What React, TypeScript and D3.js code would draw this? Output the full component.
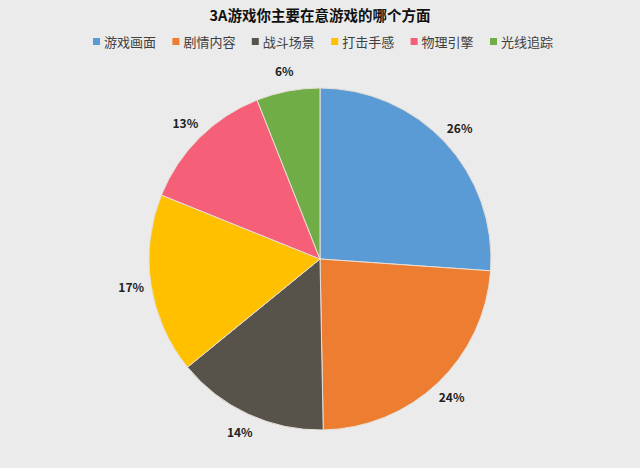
import React, { useEffect, useRef } from 'react';
import * as d3 from 'd3';

const categories = ['游戏画面', '剧情内容', '战斗场景', '打击手感', '物理引擎', '光线追踪'];
const values = [26.1, 23.6, 14.4, 17.0, 12.9, 6.0];
const labels = ['26%', '24%', '14%', '17%', '13%', '6%'];
const colors = ['#5b9bd5', '#ed7d31', '#57534b', '#ffc000', '#f55f78', '#70ad47'];

const W = 640;
const H = 468;
const FONT = '"Noto Sans CJK SC", "Noto Sans", sans-serif';

export default function App() {
  const svgRef = useRef<SVGSVGElement>(null);

  useEffect(() => {
    document.body.style.margin = '0';
    if (!svgRef.current) return;
    const svg = d3.select(svgRef.current);
    svg.selectAll('*').remove();

    svg.append('rect').attr('width', W).attr('height', H).attr('fill', '#ebebeb');

    // title
    svg.append('text')
      .attr('x', W / 2)
      .attr('y', 21)
      .attr('text-anchor', 'middle')
      .attr('font-family', FONT)
      .attr('font-size', 14.5)
      .attr('font-weight', 'bold')
      .attr('fill', '#111')
      .text('3A游戏你主要在意游戏的哪个方面');

    // legend
    const legend = svg.append('g').attr('transform', 'translate(93,42)');
    const item = legend.selectAll('g')
      .data(categories)
      .enter()
      .append('g')
      .attr('transform', (_, i) => `translate(${i * 79.4},0)`);
    item.append('rect')
      .attr('x', 0).attr('y', -4).attr('width', 7).attr('height', 7)
      .attr('fill', (_, i) => colors[i]);
    item.append('text')
      .attr('x', 11).attr('y', 5)
      .attr('font-family', FONT)
      .attr('font-size', 13)
      .attr('fill', '#404040')
      .text(d => d);

    // pie
    const cx = 320, cy = 259, r = 171;
    const pie = d3.pie<number>().sort(null).value(d => d);
    const arcs = pie(values);
    const arc = d3.arc<d3.PieArcDatum<number>>().innerRadius(0).outerRadius(r);
    const labelArc = d3.arc<d3.PieArcDatum<number>>().innerRadius(191).outerRadius(191);

    const g = svg.append('g').attr('transform', `translate(${cx},${cy})`);
    g.selectAll('path')
      .data(arcs)
      .enter()
      .append('path')
      .attr('d', arc)
      .attr('fill', (_, i) => colors[i])
      .attr('stroke', '#e8e0d8')
      .attr('stroke-width', 1);

    g.selectAll('text')
      .data(arcs)
      .enter()
      .append('text')
      .attr('transform', d => `translate(${labelArc.centroid(d)})`)
      .attr('text-anchor', 'middle')
      .attr('dy', '0.35em')
      .attr('font-family', FONT)
      .attr('font-size', 12)
      .attr('font-weight', 'bold')
      .attr('fill', '#222')
      .text((_, i) => labels[i]);
  }, []);

  return <svg ref={svgRef} width={W} height={H} style={{ display: 'block' }} />;
}
